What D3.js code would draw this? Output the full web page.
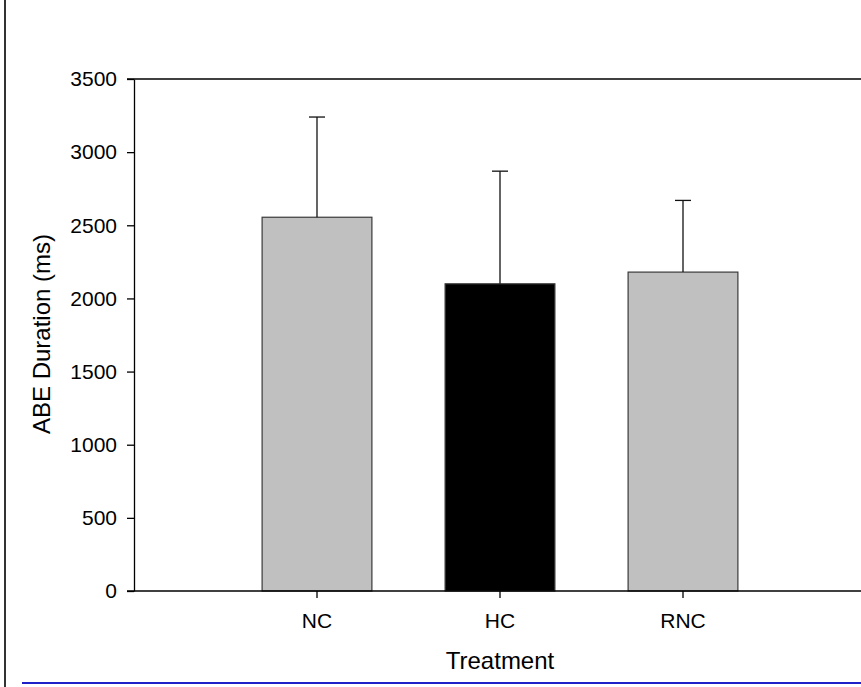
<!DOCTYPE html>
<html>
<head>
<meta charset="utf-8">
<script src="https://cdn.jsdelivr.net/npm/d3@7"></script>
<style>
  html, body { margin: 0; padding: 0; background: #fff; }
  svg { display: block; }
  text { font-family: "Liberation Sans", Arial, sans-serif; fill: #000; }
</style>
</head>
<body>
<svg id="chart" width="861" height="687"></svg>
<script>
// ABE duration by treatment group (mean with upper error bar)
const categories = ["NC", "HC", "RNC"];
const means = [2555, 2100, 2180];
const upperErrors = [3240, 2870, 2670];
const yTicks = [0, 500, 1000, 1500, 2000, 2500, 3000, 3500];
const barFills = ["#c0c0c0", "#000000", "#c0c0c0"];

const W = 861, H = 687;
const svg = d3.select("#chart");

const x = d3.scaleBand()
  .domain(categories)
  .range([134, 866])
  .paddingInner(0.4)
  .paddingOuter(0.7);

const y = d3.scaleLinear()
  .domain([0, 3500])
  .range([591, 79]);

// page frame: left rule and bottom blue rule
svg.append("line")
  .attr("x1", 5).attr("x2", 5).attr("y1", 0).attr("y2", H)
  .attr("stroke", "#333").attr("stroke-width", 2);
svg.append("line")
  .attr("x1", 22).attr("x2", W).attr("y1", 683).attr("y2", 683)
  .attr("stroke", "#2020c8").attr("stroke-width", 2);

// bars
svg.append("g").selectAll("rect")
  .data(categories)
  .join("rect")
  .attr("x", d => x(d))
  .attr("y", (d, i) => y(means[i]))
  .attr("width", x.bandwidth())
  .attr("height", (d, i) => y(0) - y(means[i]))
  .attr("fill", (d, i) => barFills[i])
  .attr("stroke", "#3a3a3a")
  .attr("stroke-width", 1.2);

// upper error bars
const eb = svg.append("g").attr("stroke", "#111").attr("stroke-width", 1.3);
categories.forEach((c, i) => {
  const cx = x(c) + x.bandwidth() / 2;
  eb.append("line")
    .attr("x1", cx).attr("x2", cx)
    .attr("y1", y(means[i])).attr("y2", y(upperErrors[i]));
  eb.append("line")
    .attr("x1", cx - 8).attr("x2", cx + 8)
    .attr("y1", y(upperErrors[i])).attr("y2", y(upperErrors[i]));
});

// top frame line
svg.append("line")
  .attr("x1", 127).attr("x2", W).attr("y1", y(3500)).attr("y2", y(3500))
  .attr("stroke", "#000").attr("stroke-width", 1.3);

// y axis
const yAxis = svg.append("g")
  .attr("transform", "translate(134,0)")
  .call(d3.axisLeft(y).tickValues(yTicks).tickFormat(d3.format("d"))
    .tickSize(7).tickPadding(10).tickSizeOuter(0));
yAxis.select(".domain").attr("stroke", "#000").attr("stroke-width", 1.3);
yAxis.selectAll(".tick line").attr("stroke", "#000").attr("stroke-width", 1.3);
yAxis.selectAll("text")
  .style("font-family", "'Liberation Sans', Arial, sans-serif")
  .style("font-size", "21px")
  .attr("fill", "#000");

// x axis
const xAxis = svg.append("g")
  .attr("transform", `translate(0,${y(0)})`)
  .call(d3.axisBottom(x).tickSize(7).tickPadding(15).tickSizeOuter(0));
xAxis.select(".domain").remove();
svg.append("line")
  .attr("x1", 127).attr("x2", W).attr("y1", y(0)).attr("y2", y(0))
  .attr("stroke", "#000").attr("stroke-width", 1.3);
xAxis.selectAll(".tick line").attr("stroke", "#000").attr("stroke-width", 1.3);
xAxis.selectAll("text")
  .style("font-family", "'Liberation Sans', Arial, sans-serif")
  .style("font-size", "21px")
  .attr("fill", "#000");

// axis titles
svg.append("text")
  .attr("x", 500).attr("y", 669)
  .attr("text-anchor", "middle")
  .style("font-size", "24px")
  .text("Treatment");

svg.append("text")
  .attr("transform", "translate(50,334) rotate(-90)")
  .attr("text-anchor", "middle")
  .style("font-size", "24px")
  .text("ABE Duration (ms)");
</script>
</body>
</html>
